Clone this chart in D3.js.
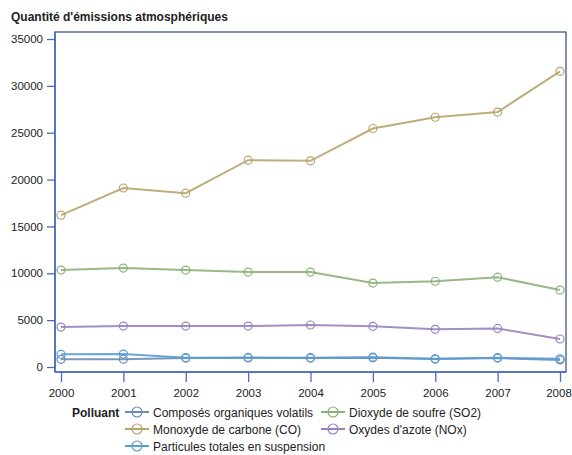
<!DOCTYPE html>
<html>
<head>
<meta charset="utf-8">
<script src="https://cdn.jsdelivr.net/npm/d3@7"></script>
<style>
  body { margin: 0; background: #fff; }
  svg text { font-family: "Liberation Sans", Arial, sans-serif; fill: #222; }
</style>
</head>
<body>
<div id="chart"></div>
<script>
// data
var years = [2000, 2001, 2002, 2003, 2004, 2005, 2006, 2007, 2008];
var cov = [820, 830, 950, 960, 950, 1000, 850, 950, 760];
var co = [16200, 19100, 18550, 22070, 22000, 25450, 26650, 27200, 31550];
var particules = [1350, 1380, 1000, 1020, 1000, 1050, 870, 990, 880];
var so2 = [10340, 10560, 10340, 10130, 10130, 8960, 9150, 9580, 8210];
var nox = [4260, 4370, 4370, 4370, 4480, 4340, 4020, 4120, 2990];
var yTicks = [0, 5000, 10000, 15000, 20000, 25000, 30000, 35000];

var series = [
  { name: 'Composés organiques volatils', values: cov, color: '#6a8db3' },
  { name: 'Monoxyde de carbone (CO)', values: co, color: '#b8a46b' },
  { name: 'Particules totales en suspension', values: particules, color: '#5b9bd5' },
  { name: 'Dioxyde de soufre (SO2)', values: so2, color: '#8db07a' },
  { name: "Oxydes d'azote (NOx)", values: nox, color: '#9b82bd' }
];

var width = 572, height = 455;
var svg = d3.select('#chart').append('svg')
  .attr('width', width).attr('height', height);

svg.append('text')
  .attr('x', 11).attr('y', 21)
  .style('font-size', '12px').style('font-weight', 'bold')
  .text("Quantité d'émissions atmosphériques");

var frame = { left: 55, right: 566, top: 32, bottom: 372 };

var x = d3.scaleLinear().domain([2000, 2008]).range([61, 560]);
var y = d3.scaleLinear().domain([0, 35000]).range([367, 39]);

// frame
svg.append('rect')
  .attr('x', frame.left).attr('y', frame.top)
  .attr('width', frame.right - frame.left).attr('height', frame.bottom - frame.top)
  .attr('fill', 'none').attr('stroke', '#2b4a86').attr('stroke-width', 1.2);

var axisColor = '#4a6cc0';

// y axis
var yAxis = svg.append('g').attr('transform', 'translate(' + frame.left + ',0)');
yAxis.call(d3.axisLeft(y).tickValues(d3.range(0, 35001, 1000)).tickSize(4).tickFormat(''));
yAxis.call(d3.axisLeft(y).tickValues(yTicks).tickSize(8).tickFormat(d3.format('d')));
yAxis.selectAll('path.domain').attr('stroke', axisColor).attr('stroke-width', 1.5)
  .attr('d', 'M0,' + frame.top + 'V' + frame.bottom);
yAxis.selectAll('line').attr('stroke', axisColor).attr('stroke-width', 1.3);
yAxis.selectAll('text').style('font-size', '11.5px').attr('dx', '-1');

// x axis
var xAxis = svg.append('g').attr('transform', 'translate(0,' + frame.bottom + ')');
xAxis.call(d3.axisBottom(x).tickValues(d3.range(2000, 2008.01, 0.2)).tickSize(5).tickFormat(''));
xAxis.call(d3.axisBottom(x).tickValues(years).tickSize(10).tickFormat(d3.format('d')));
xAxis.selectAll('path.domain').attr('stroke', axisColor).attr('stroke-width', 1.5)
  .attr('d', 'M' + frame.left + ',0H' + frame.right);
xAxis.selectAll('line').attr('stroke', axisColor).attr('stroke-width', 1.3);
xAxis.selectAll('text').style('font-size', '11.5px').attr('dy', '1.05em')
  .filter(function (d) { return d === 2008; }).attr('dx', '-1.5');

// lines
var line = d3.line()
  .x(function (d, i) { return x(years[i]); })
  .y(function (d) { return y(d); });

series.forEach(function (s) {
  var g = svg.append('g');
  g.append('path')
    .datum(s.values)
    .attr('d', line)
    .attr('fill', 'none')
    .attr('stroke', s.color)
    .attr('stroke-width', 2)
    .attr('stroke-opacity', 0.9);
  g.selectAll('circle')
    .data(s.values)
    .enter().append('circle')
    .attr('cx', function (d, i) { return x(years[i]); })
    .attr('cy', function (d) { return y(d); })
    .attr('r', 4)
    .attr('fill', 'none')
    .attr('stroke', s.color)
    .attr('stroke-width', 1.2);
});

// legend
var legend = svg.append('g');
legend.append('text')
  .attr('x', 72).attr('y', 417)
  .style('font-size', '12px').style('font-weight', 'bold')
  .text('Polluant');

var slots = [
  { x: 125, y: 412 }, { x: 125, y: 429 }, { x: 125, y: 446 },
  { x: 321, y: 412 }, { x: 321, y: 429 }
];
series.forEach(function (s, i) {
  var p = slots[i];
  var item = legend.append('g').attr('transform', 'translate(' + p.x + ',' + p.y + ')');
  item.append('line').attr('x1', 0).attr('x2', 24).attr('y1', 0).attr('y2', 0)
    .attr('stroke', s.color).attr('stroke-width', 2);
  item.append('circle').attr('cx', 12).attr('cy', 0).attr('r', 5)
    .attr('fill', 'none').attr('stroke', s.color).attr('stroke-width', 1.2);
  item.append('text').attr('x', 28).attr('y', 4.5)
    .style('font-size', '12px').text(s.name);
});
</script>
</body>
</html>
